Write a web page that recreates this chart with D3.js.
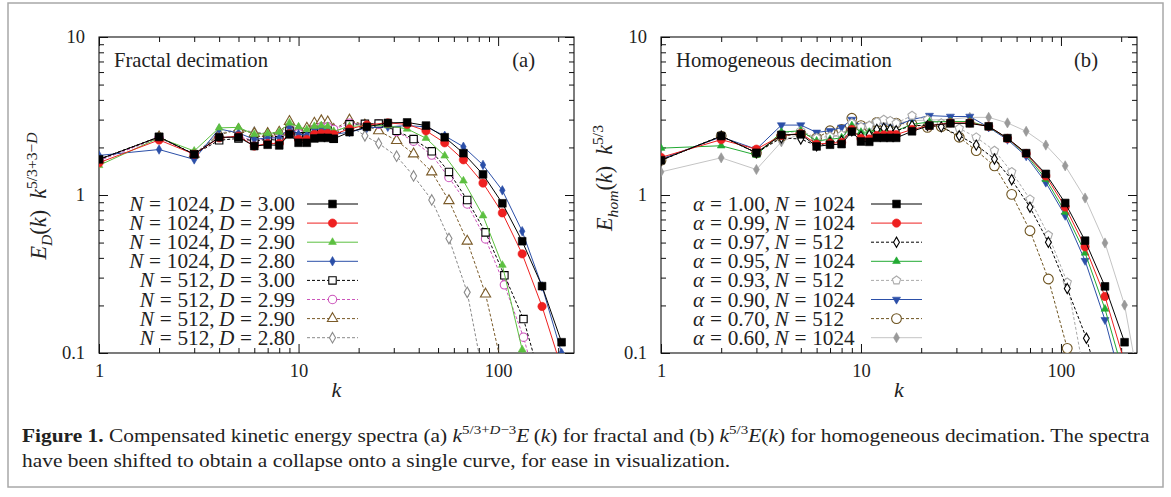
<!DOCTYPE html>
<meta charset="utf-8">
<style>
  body { margin: 0; background: #fff; }
  svg text { fill: #222; }
</style>
<svg width="1171" height="497"></svg>
<script src="https://d3js.org/d3.v7.min.js"></script>
<script>
// ---- data: wavenumber grids ----
var kLow = [1, 2, 3, 4, 5, 6, 7, 8, 9, 10, 11, 12, 13, 14, 15];
var kHigh1024 = [18, 22, 28, 35, 43.5, 54, 67, 84, 105, 132, 166, 208, 258];
var kHigh512 = [18, 21.5, 25.2, 31, 37.7, 46.5, 56.7, 70, 86.5, 107.5, 134, 168];
var k1024 = kLow.concat(kHigh1024);
var k512 = kLow.concat(kHigh512);

// ---- panel (a): fractal decimation ----
var fracN = ["1024", "1024", "1024", "1024", "512", "512", "512", "512"];
var fracD = ["3.00", "2.99", "2.90", "2.80", "3.00", "2.99", "2.90", "2.80"];

var fracN1024D300 = [1.68, 2.33, 1.81, 2.32, 2.32, 2.04, 2.08, 2.06, 2.42, 2.14, 2.14, 2.28, 2.3, 2.3, 2.27,
  2.5, 2.7, 2.86, 2.88, 2.75, 2.32, 1.84, 1.35, 0.886, 0.51, 0.265, 0.117];
var fracN1024D299 = [1.6, 2.23, 1.81, 2.3, 2.36, 2.04, 2.12, 2.12, 2.44, 2.25, 2.25, 2.42, 2.45, 2.45, 2.42,
  2.62, 2.78, 2.86, 2.8, 2.55, 2.14, 1.67, 1.19, 0.77, 0.424, 0.197, 0.08];
var fracN1024D290 = [1.54, 2.3, 1.9, 2.66, 2.68, 2.42, 2.45, 2.5, 2.86, 2.7, 2.6, 2.72, 2.75, 2.72, 2.53,
  2.72, 2.75, 2.75, 2.62, 2.29, 1.77, 1.23, 0.74, 0.36, 0.105, 0.03];
var fracN1024D280 = [1.78, 1.94, 1.68, 2.62, 2.47, 2.25, 2.3, 2.3, 2.66, 2.42, 2.4, 2.6, 2.62, 2.6, 2.42,
  2.5, 2.66, 2.7, 2.75, 2.7, 2.37, 2.02, 1.55, 1.07, 0.59, 0.264, 0.1];
var fracN512D300 = [1.68, 2.33, 1.81, 2.22, 2.28, 2.2, 2.25, 2.22, 2.55, 2.35, 2.35, 2.5, 2.55, 2.55, 2.27,
  2.8, 2.82, 2.83, 2.55, 2.26, 1.89, 1.4, 0.93, 0.58, 0.31, 0.164, 0.06];
var fracN512D299 = [1.65, 2.3, 1.82, 2.3, 2.35, 2.2, 2.3, 2.3, 2.6, 2.45, 2.45, 2.6, 2.7, 2.7, 2.6,
  2.85, 2.78, 2.8, 2.52, 2.19, 1.79, 1.29, 0.877, 0.527, 0.27, 0.126, 0.045];
var fracN512D290 = [1.68, 2.33, 1.81, 2.4, 2.6, 2.45, 2.45, 2.5, 2.92, 2.6, 2.65, 2.85, 2.95, 2.9, 2.6,
  2.98, 2.77, 2.55, 2.21, 1.82, 1.4, 0.92, 0.51, 0.236, 0.07];
var fracN512D280 = [1.68, 2.33, 1.81, 2.45, 2.6, 2.5, 2.45, 2.45, 2.8, 2.55, 2.55, 2.7, 2.75, 2.7, 2.5,
  2.75, 2.37, 2.12, 1.76, 1.32, 0.93, 0.53, 0.242, 0.06];

// ---- panel (b): homogeneous decimation ----
var homAlpha = ["1.00", "0.99", "0.97", "0.95", "0.93", "0.90", "0.70", "0.60"];
var homN = ["1024", "1024", "512", "1024", "512", "1024", "512", "1024"];

var homA100 = [1.66, 2.36, 1.85, 2.4, 2.42, 2.03, 2.08, 2.1, 2.52, 2.18, 2.17, 2.3, 2.3, 2.3, 2.3,
  2.53, 2.75, 2.84, 2.84, 2.72, 2.29, 1.84, 1.36, 0.89, 0.514, 0.264, 0.117];
var homA099 = [1.73, 2.24, 1.95, 2.38, 2.45, 2.1, 2.13, 2.15, 2.6, 2.28, 2.26, 2.38, 2.4, 2.4, 2.41,
  2.6, 2.75, 2.86, 2.86, 2.72, 2.28, 1.83, 1.32, 0.84, 0.47, 0.228, 0.087];
var homA097 = [1.66, 2.36, 1.85, 2.3, 2.26, 2.05, 2.15, 2.2, 2.55, 2.35, 2.4, 2.6, 2.65, 2.6, 2.55,
  2.75, 2.75, 2.7, 2.37, 2.07, 1.69, 1.25, 0.836, 0.502, 0.256, 0.124, 0.045];
var homA095 = [1.98, 2.05, 1.79, 2.5, 2.55, 2.2, 2.25, 2.3, 2.75, 2.5, 2.5, 2.6, 2.62, 2.62, 2.55,
  2.8, 2.9, 2.92, 2.92, 2.7, 2.28, 1.8, 1.26, 0.78, 0.43, 0.19, 0.07];
var homA093 = [1.66, 2.36, 1.85, 2.45, 2.55, 2.3, 2.35, 2.4, 2.85, 2.7, 2.75, 2.9, 3.0, 2.95, 2.85,
  3.18, 3.0, 2.85, 2.64, 2.32, 1.91, 1.4, 0.94, 0.558, 0.28, 0.062];
var homA090 = [1.69, 2.33, 1.95, 2.77, 2.77, 2.49, 2.55, 2.68, 3.0, 2.74, 2.72, 2.85, 2.85, 2.8, 2.75,
  3.0, 3.18, 3.14, 3.14, 2.68, 2.24, 1.76, 1.2, 0.74, 0.384, 0.162, 0.055];
var homA070 = [1.66, 2.36, 1.85, 2.35, 2.45, 2.3, 2.55, 2.6, 3.06, 2.75, 2.7, 2.88, 2.88, 2.88, 2.85,
  2.8, 2.68, 2.71, 2.32, 1.91, 1.53, 1.01, 0.594, 0.294, 0.107, 0.03];
var homA060 = [1.4, 1.72, 1.45, 2.17, 2.45, 2.1, 2.35, 2.35, 2.88, 2.74, 2.74, 2.8, 2.8, 2.8, 2.85,
  2.95, 2.98, 3.02, 3.1, 3.1, 2.86, 2.53, 2.07, 1.53, 0.957, 0.497, 0.201, 0.045];

var xTicksMajor = [1, 10, 100];
var xTicksMinor = [2, 3, 4, 5, 6, 7, 8, 9, 20, 30, 40, 50, 60, 70, 80, 90, 200];
var yTicksMajor = [0.1, 1, 10];
var yTicksMinor = [0.2, 0.3, 0.4, 0.5, 0.6, 0.7, 0.8, 0.9, 2, 3, 4, 5, 6, 7, 8, 9];

// pick the first serif face that is really installed
function pickFont(list) {
  var c = document.createElement("canvas").getContext("2d");
  var probe = "mmmwwwiiilllQQ1234567";
  for (var i = 0; i < list.length; i++) {
    c.font = "40px monospace";
    var base = c.measureText(probe).width;
    c.font = "40px '" + list[i] + "', monospace";
    if (Math.abs(c.measureText(probe).width - base) > 0.5) return list[i];
  }
  return "serif";
}
var serif = pickFont(["Liberation Serif", "Tinos", "Times New Roman", "Nimbus Roman", "FreeSerif", "DejaVu Serif"]);
var capFont = pickFont(["Liberation Serif", "DejaVu Serif Condensed", "DejaVu Serif"]);

// pentagon symbol (not in d3)
var symbolPentagon = {
  draw: function (ctx, size) {
    var r = Math.sqrt(size / 2.38);
    for (var i = 0; i < 5; i++) {
      var a = -Math.PI / 2 + i * 2 * Math.PI / 5;
      if (i === 0) ctx.moveTo(r * Math.cos(a), r * Math.sin(a));
      else ctx.lineTo(r * Math.cos(a), r * Math.sin(a));
    }
    ctx.closePath();
  }
};

var panels = [
  {
    x0: 99, x1: 574, title: "Fractal decimation", tag: "(a)",
    series: [
      { k: k1024, v: fracN1024D300, c: "#000", dash: null, sym: d3.symbolSquare, size: 60, fill: true },
      { k: k1024, v: fracN1024D299, c: "#ee2020", dash: null, sym: d3.symbolCircle, size: 55, fill: true },
      { k: k1024, v: fracN1024D290, c: "#5cc040", dash: null, sym: d3.symbolTriangle, size: 26, fill: true },
      { k: k1024, v: fracN1024D280, c: "#2b4fa8", dash: null, sym: d3.symbolDiamond, size: 26, fill: true },
      { k: k512, v: fracN512D300, c: "#000", dash: "3,2", sym: d3.symbolSquare, size: 55, fill: false },
      { k: k512, v: fracN512D299, c: "#cc55bb", dash: "3,2", sym: d3.symbolCircle, size: 55, fill: false },
      { k: k512, v: fracN512D290, c: "#7a5a28", dash: "3,2", sym: d3.symbolTriangle, size: 45, fill: false },
      { k: k512, v: fracN512D280, c: "#8a8a8a", dash: "3,2", sym: d3.symbolDiamond, size: 32, fill: false }
    ],
    labels: fracN.map(function (n, i) {
      return [{ t: "N", i: true }, { op: "=" }, { t: n + ",\u2009" }, { t: "D", i: true }, { op: "=" }, { t: fracD[i] }];
    }),
    legendAlign: "end", legendX: 295, lineX0: 307, lineX1: 358,
    ylabel: [{ t: "E", i: true }, { t: "D", i: true, s: "sub" }, { t: "(" }, { t: "k", i: true }, { t: ")\u2002" },
      { t: "k", i: true }, { t: "5/3+3\u2212", s: "sup" }, { t: "D", i: true, s: "sup" }],
    ylabelX: 46, ylabelY: 196
  },
  {
    x0: 661, x1: 1137, title: "Homogeneous decimation", tag: "(b)",
    series: [
      { k: k1024, v: homA100, c: "#000", dash: null, sym: d3.symbolSquare, size: 60, fill: true },
      { k: k1024, v: homA099, c: "#ee2020", dash: null, sym: d3.symbolCircle, size: 55, fill: true },
      { k: k512, v: homA097, c: "#000", dash: "3,2", sym: d3.symbolDiamond, size: 30, fill: false },
      { k: k1024, v: homA095, c: "#22aa33", dash: null, sym: d3.symbolTriangle, size: 26, fill: true },
      { k: k512, v: homA093, c: "#aaaaaa", dash: "3,2", sym: symbolPentagon, size: 45, fill: false },
      { k: k1024, v: homA090, c: "#2b4fa8", dash: null, sym: d3.symbolTriangle, size: 28, fill: true, flip: true },
      { k: k512, v: homA070, c: "#6e5420", dash: "3,2", sym: d3.symbolCircle, size: 75, fill: false },
      { k: k1024, v: homA060, c: "#999", dash: null, sym: d3.symbolDiamond, size: 30, fill: true, line: "#c4c4c4" }
    ],
    labels: homAlpha.map(function (a, i) {
      return [{ t: "\u03b1", i: true }, { op: "=" }, { t: a + ",\u2009" }, { t: "N", i: true }, { op: "=" }, { t: homN[i] }];
    }),
    legendAlign: "start", legendX: 693, lineX0: 871, lineX1: 922,
    ylabel: [{ t: "E", i: true }, { t: "hom", i: true, s: "sub" }, { t: "(" }, { t: "k", i: true }, { t: ")\u2002" },
      { t: "k", i: true }, { t: "5/3", s: "sup" }],
    ylabelX: 612, ylabelY: 178
  }
];

var y0 = 37, y1 = 353;
var svg = d3.select("svg").style("font-family", "'" + serif + "', serif");

// outer figure box
svg.append("rect").attr("x", 8).attr("y", 3).attr("width", 1155).attr("height", 484)
  .attr("fill", "none").attr("stroke", "#a8a8a8").attr("stroke-width", 1.5);

// rich text helper: parts with italic / bold / sub / sup, math "=" with wide spacing
function rich(text, parts, fs) {
  var cur = 0, pend = 0;
  parts.forEach(function (p) {
    var target = p.s === "sup" ? -0.42 * fs : p.s === "sub" ? 0.25 * fs : 0;
    var ts = text.append("tspan").attr("dy", target - cur);
    cur = target;
    if (p.i) ts.style("font-style", "italic");
    if (p.b) ts.style("font-weight", "bold");
    if (p.s) ts.style("font-size", (fs * 0.7) + "px");
    if (p.op) {
      ts.attr("dx", fs * 0.27).text(p.op);
      pend = fs * 0.27;
    } else {
      if (pend) ts.attr("dx", pend);
      pend = 0;
      ts.text(p.t);
    }
  });
  return text;
}
function richWidth(parts, fs) {
  var t = svg.append("text").style("font-size", fs + "px");
  rich(t, parts, fs);
  var w = t.node().getBBox().width;
  t.remove();
  return w;
}

// font sizes fitted to the widths seen in the figure
var legendFs = 21 * 167 / richWidth(panels[0].labels[0], 21);
var ylabFs = 22 * 128 / richWidth(panels[0].ylabel, 22);
var titleFs = 20 * 154 / richWidth([{ t: "Fractal decimation" }], 20);

panels.forEach(function (p, pi) {
  var x = d3.scaleLog().domain([1, 240]).range([p.x0, p.x1]);
  var y = d3.scaleLog().domain([0.1, 10]).range([y1, y0]);
  var g = svg.append("g");

  function styleAxis(sel) {
    sel.select(".domain").remove();
    sel.attr("font-family", null).attr("font-size", null);
    sel.selectAll("text").style("font-size", "18.5px").attr("fill", "#222");
    sel.selectAll("line").attr("stroke", "#111");
  }
  var fmt = d3.format("~g");
  g.append("g").attr("transform", "translate(0," + y1 + ")")
    .call(d3.axisBottom(x).tickValues(xTicksMajor).tickSize(-9).tickPadding(11).tickFormat(fmt)).call(styleAxis);
  g.append("g").attr("transform", "translate(0," + y1 + ")")
    .call(d3.axisBottom(x).tickValues(xTicksMinor).tickSize(-5).tickFormat("")).call(styleAxis);
  g.append("g").attr("transform", "translate(0," + y0 + ")")
    .call(d3.axisTop(x).tickValues(xTicksMajor).tickSize(-9).tickFormat("")).call(styleAxis);
  g.append("g").attr("transform", "translate(0," + y0 + ")")
    .call(d3.axisTop(x).tickValues(xTicksMinor).tickSize(-5).tickFormat("")).call(styleAxis);
  g.append("g").attr("transform", "translate(" + p.x0 + ",0)")
    .call(d3.axisLeft(y).tickValues(yTicksMajor).tickSize(-9).tickPadding(14).tickFormat(fmt)).call(styleAxis);
  g.append("g").attr("transform", "translate(" + p.x0 + ",0)")
    .call(d3.axisLeft(y).tickValues(yTicksMinor).tickSize(-5).tickFormat("")).call(styleAxis);
  g.append("g").attr("transform", "translate(" + p.x1 + ",0)")
    .call(d3.axisRight(y).tickValues(yTicksMajor).tickSize(-9).tickFormat("")).call(styleAxis);
  g.append("g").attr("transform", "translate(" + p.x1 + ",0)")
    .call(d3.axisRight(y).tickValues(yTicksMinor).tickSize(-5).tickFormat("")).call(styleAxis);

  // frame
  g.append("rect").attr("x", p.x0).attr("y", y0).attr("width", p.x1 - p.x0).attr("height", y1 - y0)
    .attr("fill", "none").attr("stroke", "#111").attr("stroke-width", 1.1);

  // axis titles
  g.append("text").attr("x", (p.x0 + p.x1) / 2).attr("y", 397).attr("text-anchor", "middle")
    .style("font-size", "22px").style("font-style", "italic").text("k");
  var yl = g.append("text").attr("transform", "translate(" + p.ylabelX + "," + p.ylabelY + ") rotate(-90)")
    .attr("text-anchor", "middle").style("font-size", ylabFs + "px");
  rich(yl, p.ylabel, ylabFs);

  // in-plot title and tag
  g.append("text").attr("x", p.x0 + 15).attr("y", 67).style("font-size", titleFs + "px").text(p.title);
  g.append("text").attr("x", p.x1 - 39).attr("y", 67).attr("text-anchor", "end").style("font-size", titleFs + "px").text(p.tag);

  // clip
  var clipId = "clip" + pi;
  svg.append("clipPath").attr("id", clipId).append("rect")
    .attr("x", p.x0).attr("y", y0).attr("width", p.x1 - p.x0).attr("height", y1 - y0);
  var plot = g.append("g").attr("clip-path", "url(#" + clipId + ")");

  var line = d3.line().x(function (d) { return x(d.k); }).y(function (d) { return y(d.e); });

  // draw series from last to first so the first-listed curves sit on top
  p.series.slice().reverse().forEach(function (s) {
    var pts = s.v.map(function (v, i) { return { k: s.k[i], e: v }; });
    plot.append("path").datum(pts).attr("d", line).attr("fill", "none")
      .attr("stroke", s.line || s.c).attr("stroke-width", 1)
      .attr("stroke-dasharray", s.dash);
    var sym = d3.symbol().type(s.sym).size(s.size);
    plot.selectAll(null).data(pts).enter().append("path")
      .attr("d", sym)
      .attr("transform", function (d) { return "translate(" + x(d.k) + "," + y(d.e) + ")" + (s.flip ? " rotate(180)" : ""); })
      .attr("fill", s.fill ? s.c : "#fff")
      .attr("stroke", s.c).attr("stroke-width", s.fill ? 0.6 : 1.1);
  });

  // legend
  var lg = g.append("g");
  p.series.forEach(function (s, i) {
    var cy = 204 + i * 19.1;
    var t = lg.append("text").attr("x", p.legendX).attr("y", cy + legendFs * 0.33)
      .attr("text-anchor", p.legendAlign).style("font-size", legendFs + "px");
    rich(t, p.labels[i], legendFs);
    lg.append("line").attr("x1", p.lineX0).attr("x2", p.lineX1).attr("y1", cy).attr("y2", cy)
      .attr("stroke", s.line || s.c).attr("stroke-width", 1).attr("stroke-dasharray", s.dash);
    lg.append("path").attr("d", d3.symbol().type(s.sym).size(s.size))
      .attr("transform", "translate(" + ((p.lineX0 + p.lineX1) / 2) + "," + cy + ")" + (s.flip ? " rotate(180)" : ""))
      .attr("fill", s.fill ? s.c : "#fff").attr("stroke", s.c).attr("stroke-width", s.fill ? 0.6 : 1.1);
  });
});

// caption
var cap = svg.append("g").style("font-family", "'" + capFont + "', serif");
var cap1 = cap.append("text").attr("x", 0).attr("y", 442).style("font-size", "18px");
rich(cap1, [
  { t: "Figure 1.", b: true }, { t: " Compensated kinetic energy spectra (a) " },
  { t: "k", i: true }, { t: "5/3+", s: "sup" }, { t: "D", i: true, s: "sup" }, { t: "\u22123", s: "sup" },
  { t: "E", i: true }, { t: "\u2009(" }, { t: "k", i: true }, { t: ")" },
  { t: " for fractal and (b) " }, { t: "k", i: true }, { t: "5/3", s: "sup" },
  { t: "E", i: true }, { t: "(" }, { t: "k", i: true }, { t: ")" },
  { t: " for homogeneous decimation. The spectra" }
], 18);
var cap2 = cap.append("text").attr("x", 0).attr("y", 467).style("font-size", "18px")
  .text("have been shifted to obtain a collapse onto a single curve, for ease in visualization.");
var w1 = cap1.node().getBBox().width;
var sx = 1128 / w1;
cap.attr("transform", "translate(22,0) scale(" + sx + ",1)");
</script>
